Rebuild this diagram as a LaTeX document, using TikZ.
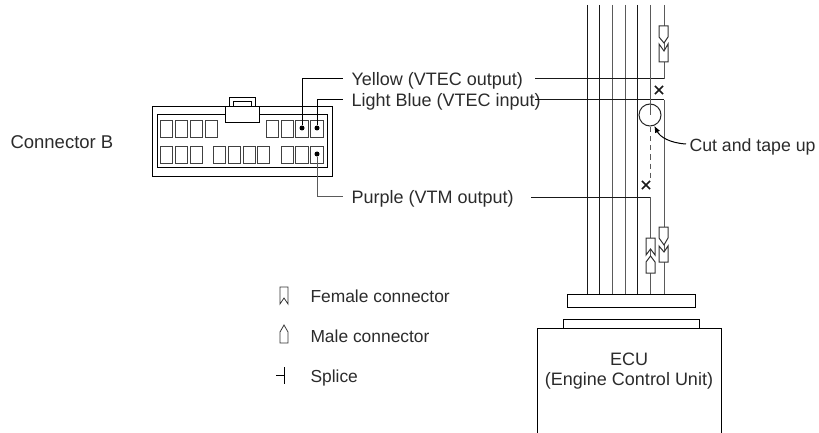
\documentclass[tikz,border=0pt]{standalone}
\usepackage{fontspec}
\setmainfont{Liberation Sans}
\usetikzlibrary{arrows.meta,shapes.misc}
\definecolor{ink}{HTML}{2B2B2B}
\definecolor{wiregray}{HTML}{5A5A5A}
\tikzset{
    lbl/.style={text=ink, inner sep=0pt, font=\fontsize{18}{20}\selectfont},
    lgd/.style={text=ink, inner sep=0pt, font=\fontsize{17.4}{20}\selectfont},
    pinbox/.style={draw=black!75, line width=0.9pt, rectangle, minimum width=12.5pt, minimum height=17pt, inner sep=0pt},
    pindot/.style={circle, fill, minimum size=5pt, inner sep=0pt},
    wiredark/.style={draw=black!90},
    wirelight/.style={draw=wiregray},
    xmark/.style={cross out, draw=black!90, line width=1.7pt, minimum size=6.5pt, inner sep=0pt},
    plug/.style={draw=black!80, fill=white}
}
\begin{document}
\begin{tikzpicture}[x=1pt, y=-1pt, line width=1pt]
    \useasboundingbox (0,0) rectangle (819,433);

    % connector housing
    \draw (229,107) -- (229,98) -- (255,98) -- (255,107);
    \draw (233,107) -- (233,102) -- (251,102) -- (251,107);
    \draw (152,107) rectangle (332,176);
    \draw (157,115) rectangle (327,167);
    \draw[fill=white] (225,107) rectangle (259,123);
    \node[lbl, anchor=base west, font=\fontsize{18.5}{20}\selectfont] (connB) at (10,149) {Connector B};

    % top row
    \node[pinbox] (t1) at (166.5,128.5) {};
    \node[pinbox] (t2) at (181.5,128.5) {};
    \node[pinbox] (t3) at (196.5,128.5) {};
    \node[pinbox] (t4) at (211.5,128.5) {};
    \node[pinbox] (t5) at (272.5,128.5) {};
    \node[pinbox] (t6) at (287.5,128.5) {};
    \node[pinbox] (t7) at (302,128.5) {};
    \node[pinbox] (t8) at (317,128.5) {};

    % bottom row
    \node[pinbox] (b1) at (166.5,154.5) {};
    \node[pinbox] (b2) at (181.5,154.5) {};
    \node[pinbox] (b3) at (196.5,154.5) {};
    \node[pinbox] (b4) at (219.5,154.5) {};
    \node[pinbox] (b5) at (234.5,154.5) {};
    \node[pinbox] (b6) at (249.5,154.5) {};
    \node[pinbox] (b7) at (263.5,154.5) {};
    \node[pinbox] (b8) at (287.5,154.5) {};
    \node[pinbox] (b9) at (302,154.5) {};
    \node[pinbox] (b10) at (317,154.5) {};

    % pin leaders
    \node[pindot] (dotY) at (302,128) {};
    \node[pindot] (dotL) at (317,128) {};
    \node[pindot] (dotP) at (317,154) {};
    \coordinate (leadY) at (343,79);
    \coordinate (leadL) at (343,100);
    \coordinate (leadP) at (343,196);
    \draw (dotY) |- (leadY);
    \draw (dotL) |- (leadL);
    \draw[wirelight] (dotP) |- (leadP);
    \node[lbl, anchor=base west] (yellow) at (351,85.5) {Yellow (VTEC output)};
    \node[lbl, anchor=base west] (blue) at (351,106.5) {Light Blue (VTEC input)};
    \node[lbl, anchor=base west] (purple) at (351,203) {Purple (VTM output)};

    % harness
    \node[draw, rectangle, minimum width=128pt, minimum height=13pt, inner sep=0pt] (bar) at (631,300.5) {};
    \coordinate (w1) at (587,5);
    \coordinate (w2) at (599,5);
    \coordinate (w3) at (612,5);
    \coordinate (w4) at (625,5);
    \coordinate (w5) at (637,5);
    \coordinate (w6) at (650,5);
    \coordinate (w7) at (664,5);
    \draw[wiredark] (w1) -- (w1 |- bar.north);
    \draw[wiredark] (w2) -- (w2 |- bar.north);
    \draw[wirelight] (w3) -- (w3 |- bar.north);
    \draw[wirelight] (w4) -- (w4 |- bar.north);
    \draw[wiredark] (w5) -- (w5 |- bar.north);

    % cut wires
    \node[draw=black!85, circle, minimum size=22pt, inner sep=0pt] (cut) at (650,115) {};
    \coordinate (endY) at (664,79);
    \coordinate (endL) at (664,100);
    \coordinate (endP) at (650,197);
    \coordinate (startY) at (535,79);
    \coordinate (startL) at (535,100);
    \coordinate (startP) at (531,197);
    \draw[wirelight] (w7) -- (endY);
    \draw[wiredark] (startY) -- (endY);
    \draw[wiredark] (startL) -- (endL);
    \draw[wirelight] (endL) -- (endL |- bar.north);
    \draw[wiredark] (startP) -- (endP);
    \draw[wirelight] (endP) -- (endP |- bar.north);
    \draw[wirelight] (w6) -- (cut.center);
    \node[xmark] (xY) at (659,90) {};
    \node[xmark] (xP) at (646,185) {};
    \draw[wirelight, dash pattern=on 5pt off 4pt] (cut.south) ++(0,1) -- (650,178);

    \node[lgd, anchor=base west, font=\fontsize{17.7}{20}\selectfont] (tape) at (689,151) {Cut and tape up};
    \coordinate (tapeL) at (686,144);
    \draw[-{Latex[length=7pt,width=5.5pt]}] (tapeL) .. controls (670,143) and (660,137) .. (cut.-68);

    % upper pair
    \draw[plug] (659,26) -- (668,26) -- (668,37) -- (664,43) -- (659,37) -- cycle;
    \draw[plug] (659,44) -- (664,51) -- (668,44) -- (668,62) -- (659,62) -- cycle;

    % lower pairs
    \draw[plug] (659,227) -- (668,227) -- (668,238) -- (664,245) -- (659,238) -- cycle;
    \draw[plug] (659,246) -- (664,252) -- (668,246) -- (668,262) -- (659,262) -- cycle;
    \draw[plug] (646,238) -- (655,238) -- (655,255) -- (650.5,249) -- (646,255) -- cycle;
    \draw[plug] (650.5,256) -- (655,262) -- (655,273) -- (646,273) -- (646,262) -- cycle;

    % ECU
    \draw (537,433) -- (537,328) -- (721,328) -- (721,433);
    \node[draw, rectangle, fill=white, minimum width=136pt, minimum height=9pt, inner sep=0pt] (socket) at (631,323.5) {};
    \node[lbl] (ecu) at (629,359) {ECU};
    \node[lbl] (ecuname) at (629,381) {(Engine Control Unit)};

    % legend
    \draw[plug, line width=0.8pt] (280,287) -- (288,287) -- (288,304) -- (284,298) -- (280,304) -- cycle;
    \draw[plug, line width=0.8pt] (284,325) -- (288,332) -- (288,343) -- (280,343) -- (280,332) -- cycle;
    \coordinate (splA) at (276,375);
    \coordinate (splB) at (284,375);
    \coordinate (splC) at (284,367);
    \coordinate (splD) at (284,384);
    \draw (splA) -- (splB);
    \draw (splC) -- (splD);
    \node[lgd, anchor=base west] (female) at (310,302) {Female connector};
    \node[lgd, anchor=base west] (male) at (310,342) {Male connector};
    \node[lgd, anchor=base west] (splice) at (310,382) {Splice};
\end{tikzpicture}
\end{document}
